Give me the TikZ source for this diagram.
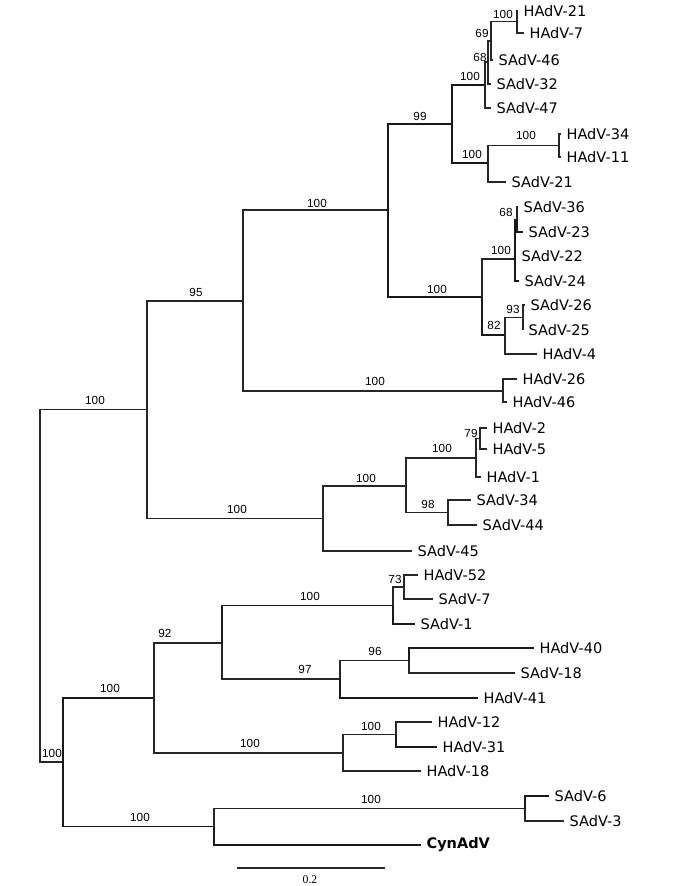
\documentclass[tikz,border=0pt]{standalone}
\usepackage{fontspec}
\setmainfont{DejaVu Sans}
\newfontfamily\bsfont{Liberation Sans}
\newfontfamily\sbfont{Liberation Serif}
\begin{document}
\begin{tikzpicture}[x=0.75pt,y=-0.75pt,
  br/.style={line width=0.9pt,draw=black!85},
  bb/.style={line width=1.3pt,draw=black!90},
  leaf/.style={anchor=west,inner xsep=4pt,inner ysep=1pt,font=\fontsize{10.9}{12}\selectfont},
  bs/.style={inner sep=0pt,font=\bsfont\fontsize{8.8}{10}\selectfont},
  sbl/.style={inner sep=0pt,font=\sbfont\fontsize{8.8}{10}\selectfont}]
\useasboundingbox (0,0) rectangle (685,886);
% internal nodes
\coordinate (nA) at (517,21.5);
\coordinate (nB) at (491,41);
\coordinate (nC) at (488,62);
\coordinate (nD) at (485,85);
\coordinate (nE) at (559,145.5);
\coordinate (nF) at (488,163);
\coordinate (nG) at (452,124);
\coordinate (nH) at (517,219.5);
\coordinate (nI) at (515,259);
\coordinate (nJ) at (523,317.5);
\coordinate (nK) at (505,335);
\coordinate (nL) at (482,297);
\coordinate (nM) at (388,210);
\coordinate (nN) at (503,391);
\coordinate (nO) at (243,301);
\coordinate (nP) at (480,438.5);
\coordinate (nQ) at (476,458);
\coordinate (nR) at (448,512.5);
\coordinate (nS) at (406,486);
\coordinate (nT) at (323,518.5);
\coordinate (nU) at (147,409.5);
\coordinate (nV) at (404,587);
\coordinate (nW) at (393,605.5);
\coordinate (nX) at (409,660.5);
\coordinate (nY) at (340,679);
\coordinate (nZ) at (222,643);
\coordinate (n12) at (396,734.5);
\coordinate (n18) at (343,753);
\coordinate (n154) at (154,698);
\coordinate (n525) at (525,808.5);
\coordinate (n214) at (214,826.5);
\coordinate (n63) at (63,762);
\coordinate (root) at (40,585.75);
% leaves
\node[leaf] (h21) at (518,11) {HAdV-21};
\node[leaf] (h7) at (524,33) {HAdV-7};
\node[leaf] (s46) at (493,60) {SAdV-46};
\node[leaf] (s32) at (491,84) {SAdV-32};
\node[leaf] (s47) at (491,108) {SAdV-47};
\node[leaf] (h34) at (561,134) {HAdV-34};
\node[leaf] (h11) at (561,157) {HAdV-11};
\node[leaf] (s21) at (506,182) {SAdV-21};
\node[leaf] (s36) at (518,207) {SAdV-36};
\node[leaf] (s23) at (523,232) {SAdV-23};
\node[leaf] (s22) at (516,256) {SAdV-22};
\node[leaf] (s24) at (519,281) {SAdV-24};
\node[leaf] (s26) at (525,305) {SAdV-26};
\node[leaf] (s25) at (523,330) {SAdV-25};
\node[leaf] (h4) at (537,354) {HAdV-4};
\node[leaf] (h26) at (517,379) {HAdV-26};
\node[leaf] (h46) at (507,402) {HAdV-46};
\node[leaf] (h2) at (487,428) {HAdV-2};
\node[leaf] (h5) at (487,449) {HAdV-5};
\node[leaf] (h1) at (481,477) {HAdV-1};
\node[leaf] (s34) at (471,500) {SAdV-34};
\node[leaf] (s44) at (477,525) {SAdV-44};
\node[leaf] (s45) at (412,551) {SAdV-45};
\node[leaf] (h52) at (418,575) {HAdV-52};
\node[leaf] (s7) at (433,599) {SAdV-7};
\node[leaf] (s1) at (415,624) {SAdV-1};
\node[leaf] (h40) at (534,648) {HAdV-40};
\node[leaf] (s18) at (515,673) {SAdV-18};
\node[leaf] (h41) at (478,698) {HAdV-41};
\node[leaf] (h12) at (432,722) {HAdV-12};
\node[leaf] (h31) at (437,747) {HAdV-31};
\node[leaf] (h18) at (421,771) {HAdV-18};
\node[leaf] (s6) at (549,796) {SAdV-6};
\node[leaf] (s3) at (564,821) {SAdV-3};
\node[leaf,font=\fontsize{10.9}{12}\selectfont\bfseries] (cyn) at (421,845) {CynAdV};
% branches
\draw[br] (root) |- (nU);
\draw[br] (root) |- (n63);
\draw[br] (nU) |- (nO);
\draw[br] (nU) |- (nT);
\draw[br] (nO) |- (nM);
\draw[br] (nO) |- (nN);
\draw[bb] (nM) |- (nG);
\draw[bb] (nM) |- (nL);
\draw[bb] (nG) |- (nD);
\draw[bb] (nG) |- (nF);
\draw[br] (nD) |- (nC);
\draw[br] (nD) |- (s47.west);
\draw[br] (nC) |- (nB);
\draw[br] (nC) |- (s32.west);
\draw[br] (nB) |- (nA);
\draw[br] (nB) |- (s46.west);
\draw[br] (nA) |- (h21.west);
\draw[br] (nA) |- (h7.west);
\draw[br] (nF) |- (nE);
\draw[br] (nF) |- (s21.west);
\draw[br] (nE) |- (h34.west);
\draw[br] (nE) |- (h11.west);
\draw[br] (nL) |- (nI);
\draw[bb] (nL) |- (nK);
\draw[bb] (nI) |- (nH);
\draw[bb] (nI) |- (s22.west);
\draw[bb] (nI) |- (s24.west);
\draw[br] (nH) |- (s36.west);
\draw[bb] (nH) |- (s23.west);
\draw[br] (nK) |- (nJ);
\draw[br] (nK) |- (h4.west);
\draw[br] (nJ) |- (s26.west);
\draw[br] (nJ) |- (s25.west);
\draw[br] (nN) |- (h26.west);
\draw[br] (nN) |- (h46.west);
\draw[br] (nT) |- (nS);
\draw[br] (nT) |- (s45.west);
\draw[br] (nS) |- (nQ);
\draw[br] (nS) |- (nR);
\draw[br] (nQ) |- (nP);
\draw[br] (nQ) |- (h1.west);
\draw[br] (nP) |- (h2.west);
\draw[br] (nP) |- (h5.west);
\draw[br] (nR) |- (s34.west);
\draw[br] (nR) |- (s44.west);
\draw[bb] (n63) |- (n154);
\draw[bb] (n63) |- (n214);
\draw[br] (n154) |- (nZ);
\draw[br] (n154) |- (n18);
\draw[bb] (nZ) |- (nW);
\draw[br] (nZ) |- (nY);
\draw[br] (nW) |- (nV);
\draw[bb] (nW) |- (s1.west);
\draw[br] (nV) |- (h52.west);
\draw[br] (nV) |- (s7.west);
\draw[br] (nY) |- (nX);
\draw[bb] (nY) |- (h41.west);
\draw[bb] (nX) |- (h40.west);
\draw[br] (nX) |- (s18.west);
\draw[br] (n18) |- (n12);
\draw[br] (n18) |- (h18.west);
\draw[br] (n12) |- (h12.west);
\draw[bb] (n12) |- (h31.west);
\draw[br] (n214) |- (n525);
\draw[bb] (n214) |- (cyn.west);
\draw[bb] (n525) |- (s6.west);
\draw[br] (n525) |- (s3.west);
% bootstrap values
\node[bs] (b1) at (503,14) {100};
\node[bs] (b2) at (482,33) {69};
\node[bs] (b3) at (480,57) {68};
\node[bs] (b4) at (470,76) {100};
\node[bs] (b5) at (420,116) {99};
\node[bs] (b6) at (526,135) {100};
\node[bs] (b7) at (472,154) {100};
\node[bs] (b8) at (317,203) {100};
\node[bs] (b9) at (196,292) {95};
\node[bs] (b10) at (437,289) {100};
\node[bs] (b11) at (501,250) {100};
\node[bs] (b12) at (506,212) {68};
\node[bs] (b13) at (513,309) {93};
\node[bs] (b14) at (494,325) {82};
\node[bs] (b15) at (375,381) {100};
\node[bs] (b16) at (95,400) {100};
\node[bs] (b17) at (237,509) {100};
\node[bs] (b18) at (366,478) {100};
\node[bs] (b19) at (442,448) {100};
\node[bs] (b20) at (428,504) {98};
\node[bs] (b21) at (471,433) {79};
\node[bs] (b22) at (52,753) {100};
\node[bs] (b23) at (110,688) {100};
\node[bs] (b24) at (250,743) {100};
\node[bs] (b25) at (140,817) {100};
\node[bs] (b26) at (165,633) {92};
\node[bs] (b27) at (310,596) {100};
\node[bs] (b28) at (395,579) {73};
\node[bs] (b29) at (305,669) {97};
\node[bs] (b30) at (375,651) {96};
\node[bs] (b31) at (371,726) {100};
\node[bs] (b32) at (371,799) {100};
% scale bar
\coordinate (sbA) at (237,868);
\coordinate (sbB) at (385,868);
\draw[br] (sbA) -- (sbB);
\node[sbl] (sbt) at (310,880) {0.2};
\end{tikzpicture}
\end{document}
